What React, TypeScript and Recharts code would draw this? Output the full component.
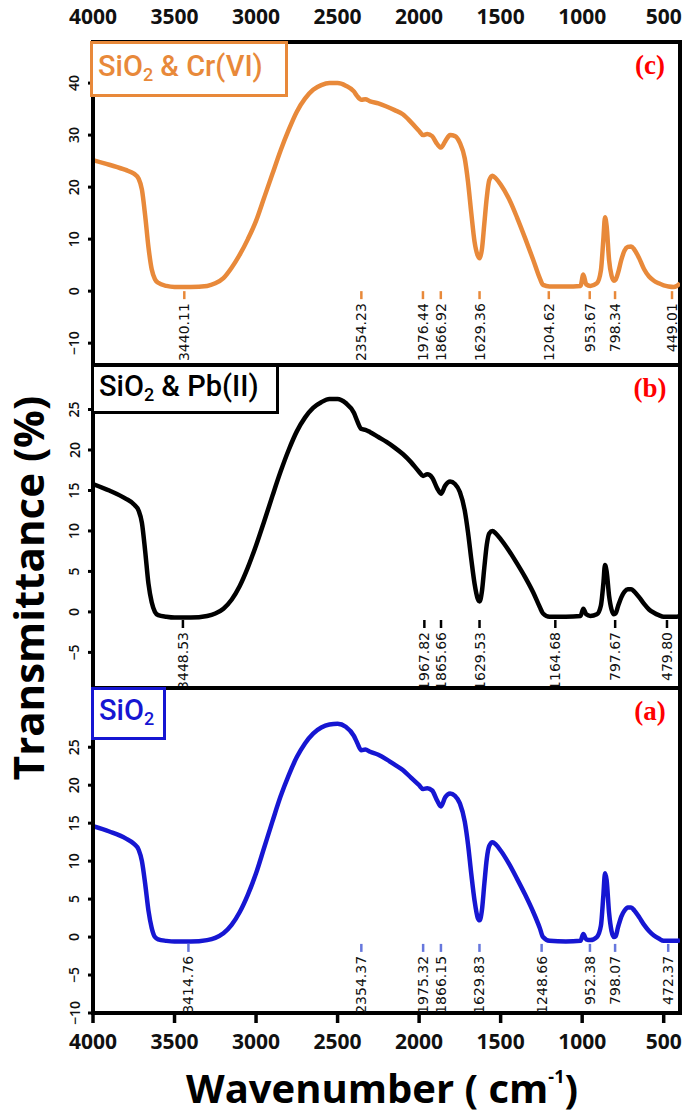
import React from "react";
import { LineChart, Line, XAxis, YAxis, ReferenceArea, ReferenceDot } from "recharts";

// wavenumber grid (cm-1), shared by the three spectra
const wn = [
  4000, 3900, 3800, 3750, 3720, 3700, 3680, 3660, 3640, 3620, 3600, 3550, 3500, 3400, 3300, 3250, 3200,
  3150, 3100, 3050, 3000, 2950, 2900, 2850, 2800, 2750, 2700, 2650, 2600, 2550, 2500, 2450, 2400, 2380,
  2354, 2330, 2300, 2250, 2200, 2150, 2100, 2050, 2000, 1976, 1950, 1920, 1890, 1866, 1840, 1810, 1780,
  1750, 1720, 1700, 1680, 1660, 1640, 1629, 1615, 1600, 1585, 1570, 1550, 1530, 1500, 1450, 1400, 1350,
  1300, 1260, 1240, 1200, 1100, 1010, 993, 975, 950, 910, 885, 870, 860, 850, 835, 820, 805, 795, 780,
  760, 740, 720, 700, 680, 650, 620, 590, 560, 530, 500, 470, 440, 420, 400,
];

// (c) SiO2 & Cr(VI)
const crT = [
  25.2, 24.3, 23.3, 22.6, 21.6, 19.5, 14.5, 8.5, 4.2, 2.3, 1.6, 1.0, 0.8, 0.8, 1.0, 1.5, 2.5,
  4.5, 7.0, 10.0, 13.5, 18.0, 22.5, 27.0, 31.0, 34.5, 37.0, 38.7, 39.6, 40.0, 40.0, 39.5, 38.4, 37.5,
  36.8, 36.9, 36.5, 36.1, 35.5, 34.8, 34.0, 32.5, 30.8, 30.0, 30.2, 29.8, 28.3, 27.6, 28.8, 30.0, 29.8,
  28.5, 25.5, 21.0, 15.0, 9.5, 6.8, 6.3, 8.0, 13.0, 18.0, 21.3, 22.2, 21.7, 20.5, 17.8, 14.2, 10.2,
  6.0, 2.5, 1.2, 0.9, 0.9, 1.0, 3.2, 1.3, 1.0, 1.5, 4.0, 10.0, 14.2, 12.5, 6.0, 3.0, 2.0, 2.2, 3.5,
  6.0, 7.8, 8.5, 8.6, 8.0, 6.3, 4.2, 2.8, 2.0, 1.5, 1.1, 0.9, 0.8, 1.0, 1.5,
];

// (b) SiO2 & Pb(II)
const pbT = [
  15.8, 15.0, 14.0, 13.3, 12.5, 11.0, 7.5, 3.5, 1.2, 0.0, -0.4, -0.6, -0.7, -0.7, -0.5, -0.2, 0.4,
  1.5, 3.2, 5.5, 8.2, 11.2, 14.3, 17.3, 20.0, 22.3, 24.0, 25.2, 25.9, 26.3, 26.3, 25.8, 24.6, 23.6,
  22.6, 22.5, 22.2, 21.6, 21.0, 20.3, 19.5, 18.5, 17.3, 16.8, 17.0, 16.6, 15.3, 14.6, 15.6, 16.1, 15.8,
  14.8, 12.5, 9.8, 6.5, 3.5, 1.6, 1.3, 2.5, 5.5, 8.3, 9.7, 10.0, 9.7, 9.0, 7.6, 6.0, 4.3,
  2.4, 0.6, -0.2, -0.6, -0.6, -0.5, 0.4, -0.3, -0.5, -0.3, 0.8, 3.5, 5.8, 5.0, 2.0, 0.3, -0.3, -0.2, 0.7,
  1.8, 2.5, 2.8, 2.8, 2.5, 1.8, 1.0, 0.3, -0.1, -0.4, -0.6, -0.6, -0.6, -0.6, -0.5,
];

// (a) SiO2
const sioT = [
  14.6, 13.9, 13.0, 12.3, 11.5, 10.0, 7.0, 3.5, 1.2, 0.0, -0.3, -0.5, -0.6, -0.6, -0.4, -0.1, 0.5,
  1.6, 3.3, 5.6, 8.4, 11.8, 15.2, 18.5, 21.3, 23.7, 25.5, 26.8, 27.6, 28.0, 28.1, 27.7, 26.5, 25.6,
  24.6, 24.7, 24.4, 24.0, 23.4, 22.7, 22.0, 21.0, 20.0, 19.5, 19.6, 19.3, 18.0, 17.2, 18.4, 18.9, 18.6,
  17.6, 15.2, 12.2, 8.3, 4.8, 2.5, 2.2, 3.5, 7.0, 10.3, 12.0, 12.5, 12.2, 11.4, 9.7, 7.7, 5.6,
  3.3, 1.2, 0.0, -0.5, -0.6, -0.5, 0.4, -0.3, -0.4, 0.0, 1.5, 5.5, 8.4, 7.5, 3.2, 0.8, 0.0, 0.1, 1.3,
  2.7, 3.5, 3.9, 3.9, 3.5, 2.6, 1.6, 0.8, 0.2, -0.2, -0.5, -0.5, -0.5, -0.5, -0.4,
];

// annotated band positions
const crPeaks = [3440.11, 2354.23, 1976.44, 1866.92, 1629.36, 1204.62, 953.67, 798.34, 449.01];
const pbPeaks = [3448.53, 1967.82, 1865.66, 1629.53, 1164.68, 797.67, 479.8];
const sioPeaks = [3414.76, 2354.37, 1975.32, 1866.15, 1629.83, 1248.66, 952.38, 798.07, 472.37];

const waveTicks = [4000, 3500, 3000, 2500, 2000, 1500, 1000, 500];
const crTicks = [-10, 0, 10, 20, 30, 40];
const pbTicks = [-5, 0, 5, 10, 15, 20, 25];
const sioTicks = [-10, -5, 0, 5, 10, 15, 20, 25];

const ORANGE = "#E8893A";
const BLUE = "#1616D2";
const W = 685;
const X_DOMAIN: [number, number] = [400, 4000];
const MARGIN_L = 53;
const MARGIN_R = 5;

const toRows = (vals: number[]) => wn.map((w, i) => ({ w, v: vals[i] }));

const fmt = (n: number) => (n < 0 ? "\u2212" + Math.abs(n) : String(n));

function YTick({ y, payload }: any) {
  return (
    <text
      x={74}
      y={y}
      transform={`rotate(-90 74 ${y})`}
      textAnchor="middle"
      dominantBaseline="central"
      fontSize={14}
      fontWeight={600}
      fontFamily="Open Sans, sans-serif"
      fill="#111"
    >
      {fmt(payload.value)}
    </text>
  );
}

function XTickLabel({ x, payload, ty }: any) {
  return (
    <text
      x={x}
      y={ty}
      textAnchor="middle"
      dominantBaseline="central"
      fontSize={21}
      fontWeight={700}
      fontFamily="Open Sans, sans-serif"
      fill="#111"
    >
      {payload.value}
    </text>
  );
}

// short coloured dash + rotated wavenumber text hanging below it
function PeakMark({ cx, cy, label, color }: any) {
  const ty = cy + 12;
  return (
    <g>
      <line x1={cx} x2={cx} y1={cy} y2={cy + 8} stroke={color} strokeWidth={2.5} />
      <text
        x={cx}
        y={ty}
        transform={`rotate(-90 ${cx} ${ty})`}
        textAnchor="end"
        dominantBaseline="central"
        fontSize={14}
        fontFamily="DejaVu Sans, sans-serif"
        fill="#111"
      >
        {label}
      </text>
    </g>
  );
}

function Panel({
  vals,
  color,
  peaks,
  markColor,
  markY,
  domain,
  ticks,
  height,
  margin,
  topAxis,
  bottomAxis,
}: any) {
  return (
    <LineChart width={W} height={height} data={toRows(vals)} margin={margin}>
      <XAxis
        dataKey="w"
        type="number"
        domain={X_DOMAIN}
        reversed
        allowDataOverflow
        ticks={waveTicks}
        orientation={topAxis ? "top" : "bottom"}
        hide={!topAxis && !bottomAxis}
        height={topAxis || bottomAxis ? 40 : 0}
        axisLine={bottomAxis ? { stroke: "#000", strokeWidth: 4 } : false}
        tickLine={bottomAxis ? { stroke: "#000", strokeWidth: 3.5 } : false}
        tickSize={bottomAxis ? 10 : 0}
        tick={<XTickLabel ty={topAxis ? 16 : 356} />}
      />
      <YAxis
        type="number"
        domain={domain}
        ticks={ticks}
        allowDataOverflow
        width={40}
        axisLine={{ stroke: "#000", strokeWidth: 4 }}
        tickLine={{ stroke: "#000", strokeWidth: 3 }}
        tickSize={5}
        tick={<YTick />}
      />
      <ReferenceArea
        x1={4000}
        x2={400}
        y1={domain[0]}
        y2={domain[1]}
        fill="none"
        stroke="#000"
        strokeWidth={4}
        ifOverflow="visible"
      />
      <Line
        dataKey="v"
        type="monotone"
        stroke={color}
        strokeWidth={4.5}
        dot={false}
        activeDot={false}
        isAnimationActive={false}
      />
      {peaks.map((p: number) => (
        <ReferenceDot
          key={p}
          x={p}
          y={markY}
          r={0}
          ifOverflow="visible"
          shape={(props: any) => (
            <PeakMark cx={props.cx} cy={props.cy} label={p.toFixed(2)} color={markColor} />
          )}
        />
      ))}
    </LineChart>
  );
}

function LegendBox({ left, top, width, height, color, children }: any) {
  return (
    <div
      style={{
        position: "absolute",
        left,
        top,
        width,
        height,
        boxSizing: "border-box",
        border: `3.5px solid ${color}`,
        background: "#fff",
        color,
        fontFamily: "Roboto, sans-serif",
        fontWeight: 500,
        fontSize: 29,
        lineHeight: `${height - 12}px`,
        paddingLeft: 5,
        whiteSpace: "nowrap",
      }}
    >
      {children}
    </div>
  );
}

function Tag({ top, children }: any) {
  return (
    <div
      style={{
        position: "absolute",
        left: 620,
        top,
        width: 60,
        textAlign: "center",
        fontFamily: "Liberation Serif, serif",
        fontWeight: 700,
        fontSize: 27,
        color: "#ff0000",
      }}
    >
      {children}
    </div>
  );
}

const sub = { fontSize: "0.62em", verticalAlign: "-0.3em" } as const;

export default function App() {
  return (
    <div style={{ position: "absolute", left: 0, top: 0, width: W, height: 1114, background: "#fff", overflow: "hidden" }}>
      <div style={{ position: "absolute", left: 0, top: 0 }}>
        <Panel
          vals={crT}
          color={ORANGE}
          peaks={crPeaks}
          markColor={ORANGE}
          markY={0}
          domain={[-14.2, 47.9]}
          ticks={crTicks}
          height={368}
          margin={{ top: 2, right: MARGIN_R, bottom: 3, left: MARGIN_L }}
          topAxis
        />
      </div>
      <div style={{ position: "absolute", left: 0, top: 362 }}>
        <Panel
          vals={pbT}
          color="#000"
          peaks={pbPeaks}
          markColor="#000"
          markY={-1.0}
          domain={[-9.4, 30.5]}
          ticks={pbTicks}
          height={330}
          margin={{ top: 3, right: MARGIN_R, bottom: 4, left: MARGIN_L }}
        />
      </div>
      <div style={{ position: "absolute", left: 0, top: 685 }}>
        <Panel
          vals={sioT}
          color={BLUE}
          peaks={sioPeaks}
          markColor="#6677dd"
          markY={-0.9}
          domain={[-10, 32.8]}
          ticks={sioTicks}
          height={429}
          margin={{ top: 3, right: MARGIN_R, bottom: 61, left: MARGIN_L }}
          bottomAxis
        />
      </div>

      <LegendBox left={90} top={41} width={198} height={56} color={ORANGE}>
        SiO<span style={sub}>2</span> &amp; Cr(VI)
      </LegendBox>
      <LegendBox left={91} top={364} width={188} height={50} color="#000">
        SiO<span style={sub}>2</span> &amp; Pb(II)
      </LegendBox>
      <LegendBox left={91} top={687} width={75} height={53} color={BLUE}>
        SiO<span style={sub}>2</span>
      </LegendBox>

      <Tag top={50}>(c)</Tag>
      <Tag top={373}>(b)</Tag>
      <Tag top={696}>(a)</Tag>

      <div
        style={{
          position: "absolute",
          left: 28,
          top: 588,
          transform: "translate(-50%, -50%) rotate(-90deg)",
          whiteSpace: "nowrap",
          fontFamily: "Open Sans, sans-serif",
          fontWeight: 700,
          fontSize: 42,
          lineHeight: 1,
          color: "#000",
        }}
      >
        Transmittance (%)
      </div>
      <div
        style={{
          position: "absolute",
          left: 382,
          top: 1088,
          transform: "translate(-50%, -50%)",
          whiteSpace: "nowrap",
          fontFamily: "Open Sans, sans-serif",
          fontWeight: 700,
          fontSize: 40,
          lineHeight: 1,
          color: "#000",
        }}
      >
        Wavenumber ( cm<sup style={{ fontSize: "0.45em", verticalAlign: "1.1em", lineHeight: 0 }}>-1</sup>)
      </div>
    </div>
  );
}
